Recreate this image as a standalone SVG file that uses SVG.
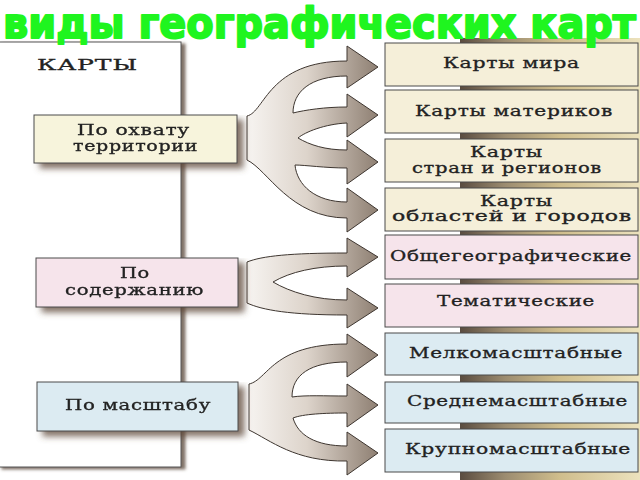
<svg xmlns="http://www.w3.org/2000/svg" width="640" height="480" viewBox="0 0 640 480">
<defs>
  <linearGradient id="arrowGrad" gradientUnits="userSpaceOnUse" x1="247" y1="0" x2="380" y2="0">
    <stop offset="0" stop-color="#f7f4f1"/>
    <stop offset="0.45" stop-color="#ddd4cb"/>
    <stop offset="1" stop-color="#8c7d70"/>
  </linearGradient>
  <linearGradient id="barGrad" x1="0" y1="0" x2="1" y2="0">
    <stop offset="0" stop-color="#5a4c40"/>
    <stop offset="0.25" stop-color="#9c8c70"/>
    <stop offset="0.55" stop-color="#cfbd8c"/>
    <stop offset="1" stop-color="#ece2bd"/>
  </linearGradient>
  <filter id="shadow" x="-10%" y="-10%" width="130%" height="140%">
    <feGaussianBlur in="SourceAlpha" stdDeviation="3"/>
    <feOffset dx="6" dy="5" result="b"/>
    <feFlood flood-color="#5c4636" flood-opacity="0.75"/>
    <feComposite in2="b" operator="in"/>
    <feMerge><feMergeNode/><feMergeNode in="SourceGraphic"/></feMerge>
  </filter>
  <filter id="panelShadow" x="-5%" y="-5%" width="115%" height="110%">
    <feGaussianBlur in="SourceAlpha" stdDeviation="1.5"/>
    <feOffset dx="4" dy="2" result="b"/>
    <feFlood flood-color="#6a5a4e" flood-opacity="0.85"/>
    <feComposite in2="b" operator="in"/>
    <feMerge><feMergeNode/><feMergeNode in="SourceGraphic"/></feMerge>
  </filter>
</defs>
<style>
  .box { stroke: #4a4a4a; stroke-width: 1; }
  .cream { fill: #f5efd9; }
  .yel { fill: #f7f4dc; }
  .pink { fill: #f6e4eb; }
  .blue { fill: #dcebf2; }
  .t { font-family: "DejaVu Serif", "Liberation Serif", serif; font-size: 14px; fill: #222222; stroke: #222222; stroke-width: 0.3; letter-spacing: 0.5px; }
  .arrow { fill: url(#arrowGrad); stroke: #3e3630; stroke-width: 1; stroke-linejoin: round; }
  .title { font-family: "DejaVu Sans", "Liberation Sans", sans-serif; font-weight: bold; font-size: 43px; fill: #1ff51f; stroke: #1ff51f; stroke-width: 2; stroke-linejoin: round; }
</style>
<rect width="640" height="480" fill="#ffffff"/>

<g id="panel">
  <rect x="-2" y="42" width="183" height="425" fill="#ffffff" stroke="#555" stroke-width="1" filter="url(#panelShadow)"/>
  <text class="t" x="37" y="70" font-size="17" textLength="101" lengthAdjust="spacingAndGlyphs">КАРТЫ</text>
</g>

<rect x="460" y="38" width="180" height="442" fill="url(#barGrad)"/>

<g id="connectors">
  <path class="arrow" d="M247,116 C265,112 268,61 347,61 L347,46 L378,67 L347,88 L347,76 C310,76 293,92 293,113 C305,110 325,107 347,107 L347,94 L378,115 L347,137 L347,123 C325,124 305,132 298,138 C310,145 325,150 347,150 L347,140 L378,162 L347,184 L347,168 C325,168 305,165 295,165 C297,185 315,202 347,202 L347,188 L378,210 L347,232 L347,218 C290,218 268,170 247,160 Z"/>
  <path class="arrow" d="M247,262 C262,256 290,253 347,253 L347,238 L378,257 L347,277 L347,266 C315,266 290,272 273,282 C290,292 315,300 347,300 L347,288 L378,308 L347,328 L347,315 C290,315 262,310 247,303 Z"/>
  <path class="arrow" d="M249,384 C268,380 272,344 347,344 L347,334 L378,355 L347,377 L347,362 C310,362 292,375 292,397 C305,395 325,396 347,396 L347,384 L378,405 L347,427 L347,413 C325,413 303,414 293,418 C298,435 315,446 347,446 L347,432 L378,453 L347,475 L347,461 C295,462 270,440 249,430 Z"/>
</g>

<g id="territory" filter="url(#shadow)">
  <rect class="box yel" x="34" y="115" width="203" height="48"/>
  <text class="t" x="77" y="135" textLength="113" lengthAdjust="spacingAndGlyphs">По охвату</text>
  <text class="t" x="73" y="151" textLength="125" lengthAdjust="spacingAndGlyphs">территории</text>
</g>
<g id="content" filter="url(#shadow)">
  <rect class="box pink" x="36" y="258" width="202" height="49"/>
  <text class="t" x="120" y="278" textLength="30" lengthAdjust="spacingAndGlyphs">По</text>
  <text class="t" x="65" y="295" textLength="139" lengthAdjust="spacingAndGlyphs">содержанию</text>
</g>
<g id="scale" filter="url(#shadow)">
  <rect class="box blue" x="37" y="382" width="201" height="49"/>
  <text class="t" x="65" y="410" textLength="146" lengthAdjust="spacingAndGlyphs">По масштабу</text>
</g>

<g id="world">
  <rect class="box cream" x="385" y="43" width="253" height="43"/>
  <text class="t" x="443" y="68" textLength="137" lengthAdjust="spacingAndGlyphs">Карты мира</text>
</g>
<g id="continents">
  <rect class="box cream" x="385" y="90" width="253" height="43"/>
  <text class="t" x="415" y="116" textLength="198" lengthAdjust="spacingAndGlyphs">Карты материков</text>
</g>
<g id="countries">
  <rect class="box cream" x="385" y="139" width="253" height="43"/>
  <text class="t" x="470" y="157" textLength="73" lengthAdjust="spacingAndGlyphs">Карты</text>
  <text class="t" x="412" y="173" textLength="190" lengthAdjust="spacingAndGlyphs">стран и регионов</text>
</g>
<g id="regions">
  <rect class="box cream" x="385" y="188" width="253" height="43"/>
  <text class="t" x="480" y="206" textLength="73" lengthAdjust="spacingAndGlyphs">Карты</text>
  <text class="t" x="392" y="221" textLength="240" lengthAdjust="spacingAndGlyphs">областей и городов</text>
</g>
<g id="general">
  <rect class="box pink" x="385" y="235" width="253" height="44"/>
  <text class="t" x="390" y="261" textLength="242" lengthAdjust="spacingAndGlyphs">Общегеографические</text>
</g>
<g id="thematic">
  <rect class="box pink" x="385" y="284" width="253" height="43"/>
  <text class="t" x="437" y="306" textLength="158" lengthAdjust="spacingAndGlyphs">Тематические</text>
</g>
<g id="small">
  <rect class="box blue" x="385" y="333" width="253" height="42"/>
  <text class="t" x="409" y="358" textLength="214" lengthAdjust="spacingAndGlyphs">Мелкомасштабные</text>
</g>
<g id="medium">
  <rect class="box blue" x="385" y="382" width="253" height="41"/>
  <text class="t" x="407" y="406" textLength="221" lengthAdjust="spacingAndGlyphs">Среднемасштабные</text>
</g>
<g id="large">
  <rect class="box blue" x="385" y="429" width="253" height="43"/>
  <text class="t" x="405" y="454" textLength="226" lengthAdjust="spacingAndGlyphs">Крупномасштабные</text>
</g>

<text class="title" x="3" y="38" textLength="633" lengthAdjust="spacingAndGlyphs">виды географических карт</text>
</svg>
